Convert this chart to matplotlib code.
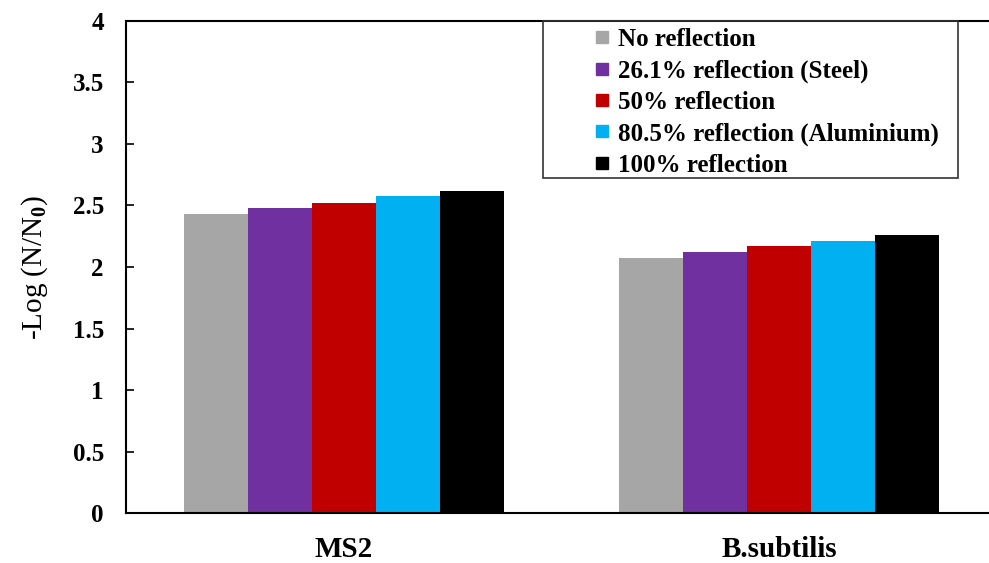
import numpy as np
import matplotlib
matplotlib.use("Agg")
from matplotlib import pyplot as plt
from matplotlib.lines import Line2D
from matplotlib.patches import Rectangle

plt.rcParams['font.family'] = ['Liberation Serif', 'DejaVu Serif']
plt.rcParams['font.weight'] = 'bold'
plt.rcParams['mathtext.fontset'] = 'custom'
plt.rcParams['mathtext.rm'] = 'Liberation Serif:bold'
plt.rcParams['mathtext.it'] = 'Liberation Serif:bold'

# data
groups = ["MS2", "B.subtilis"]
series = ["No reflection", "26.1% reflection (Steel)", "50% reflection",
          "80.5% reflection (Aluminium)", "100% reflection"]
ms2 = [2.43, 2.48, 2.52, 2.58, 2.62]
bsub = [2.07, 2.12, 2.17, 2.21, 2.26]
colors = ["#A6A6A6", "#7030A0", "#C00000", "#00B0F0", "#000000"]

fig = plt.figure(figsize=(9.89, 5.63), dpi=100)
ax = fig.add_axes([126/989, 1-513.3/563, 871/989, 492.6/563])

x = np.arange(len(groups))
w = 0.147
for i in range(len(series)):
    vals = [ms2[i], bsub[i]]
    ax.bar(x + (i-2)*w, vals, w, color=colors[i], label=series[i])

ax.set_xlim(-0.5, 1.5)
ax.set_ylim(0, 4)
ax.set_yticks(np.arange(0, 4.01, 0.5))
ax.set_yticklabels(["0", "0.5", "1", "1.5", "2", "2.5", "3", "3.5", "4"])
ax.set_xticks(x)
ax.set_xticklabels(groups, fontsize=21)
ax.tick_params(axis='y', direction='in', length=6, width=1.2, labelsize=18, pad=16)
ax.tick_params(axis='x', length=0, pad=16)
for s in ax.spines.values():
    s.set_linewidth(1.5)

ax.set_ylabel("-Log (N/N$_0$)", fontsize=21, labelpad=16)

# legend with separate frame
handles = [Line2D([], [], marker='s', linestyle='none', markersize=8,
                  markerfacecolor=c, markeredgecolor=c) for c in colors]
fig.legend(handles, series, loc='upper left', frameon=False,
           bbox_to_anchor=(592/989, 1-28/563), borderaxespad=0, borderpad=0,
           handlelength=0.8, handletextpad=0.25, labelspacing=0.33,
           prop={'size': 18, 'weight': 'bold'})
fig.patches.append(Rectangle((543/989, 1-178/563), 415/989, 157/563,
                             transform=fig.transFigure, fill=False,
                             edgecolor='#333333', linewidth=1.2))

fig.savefig("out.png", dpi=100)
